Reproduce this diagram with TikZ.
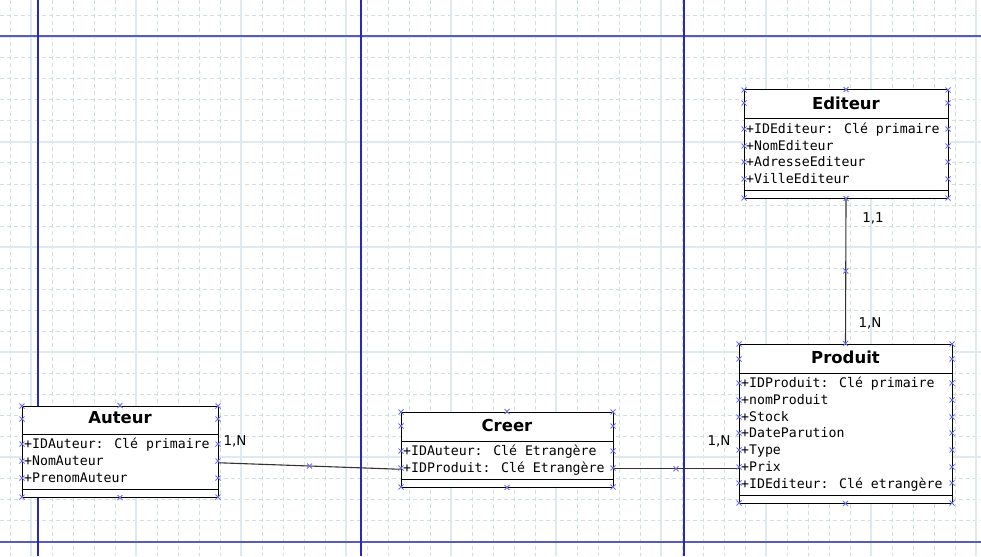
\documentclass[tikz,border=0pt]{standalone}
\usepackage{fontspec}
\setmainfont{DejaVu Sans}
\newfontfamily\attrfamily{DejaVu Sans Mono}

\definecolor{minorcol}{RGB}{206,224,224}
\definecolor{majorcol}{RGB}{222,234,238}
\definecolor{guidedark}{RGB}{40,40,190}
\definecolor{guidelight}{RGB}{90,90,185}
\definecolor{handlecol}{RGB}{110,110,235}

\tikzset{
  minorgrid/.style={draw=minorcol, line width=1pt, dash pattern=on 4pt off 3pt},
  majorgrid/.style={draw=majorcol, line width=1.2pt},
  guidev/.style={draw=guidedark, line width=1.2pt},
  guideh/.style={draw=guidelight, line width=2pt},
  classbox/.style={draw=black, fill=white, line width=1pt, inner sep=0pt},
  classline/.style={draw=black, line width=1pt},
  classtitle/.style={font=\fontsize{16.5}{19}\selectfont\bfseries, inner sep=0pt},
  attr/.style={font=\attrfamily\fontsize{13.2}{16}\selectfont, anchor=base west, inner sep=0pt},
  cardlabel/.style={font=\fontsize{13.5}{16}\selectfont, anchor=base, inner sep=0pt},
  link/.style={draw=black!80, line width=1.1pt},
  handle/.pic={\draw[handlecol, line width=0.9pt] (-2.5,-2.5) -- (2.5,2.5) (-2.5,2.5) -- (2.5,-2.5);}
}

\begin{document}
\begin{tikzpicture}[x=1pt, y=-1pt]
\useasboundingbox (0,0) rectangle (981,556);
\fill[white] (0,0) rectangle (981,556);

% Grid
\foreach \gx in {10,31,...,976} \draw[minorgrid] (\gx,0) -- (\gx,556);
\foreach \gy in {16,37,...,541} \draw[minorgrid] (0,\gy) -- (981,\gy);
\foreach \gx in {31,136,...,976} \draw[majorgrid] (\gx,0) -- (\gx,556);
\foreach \gy in {37,142,...,457} \draw[majorgrid] (0,\gy) -- (981,\gy);

% Page guides
\draw[guideh] (0,36.5) -- (981,36.5);
\draw[guideh] (0,541.5) -- (981,541.5);
\draw[guidev] (38,0) -- (38,556);
\draw[guidev] (361,0) -- (361,556);
\draw[guidev] (684,0) -- (684,556);

% Editeur
\node[classbox, minimum width=204pt, minimum height=108pt] (editeur) at (846,144) {};
\node[classtitle] (editeur-t) at (846,103) {Editeur};
\draw[classline] (editeur.west |- 0,119) -- (editeur.east |- 0,119);
\draw[classline] (editeur.west |- 0,190) -- (editeur.east |- 0,190);
\foreach \t [count=\i from 0] in {+IDEditeur: Clé primaire, +NomEditeur, +AdresseEditeur, +VilleEditeur}
  \node[attr] (editeur-a\i) at (746,{133.5+16.7*\i}) {\t};

% Produit
\node[classbox, minimum width=213pt, minimum height=159pt] (produit) at (845.5,423.5) {};
\node[classtitle] (produit-t) at (845.5,357) {Produit};
\draw[classline] (produit.west |- 0,373) -- (produit.east |- 0,373);
\draw[classline] (produit.west |- 0,495) -- (produit.east |- 0,495);
\foreach \t [count=\i from 0] in {+IDProduit: Clé primaire, +nomProduit, +Stock, +DateParution, +Type, +Prix, +IDEditeur: Clé etrangère}
  \node[attr] (produit-a\i) at (741,{387.5+16.8*\i}) {\t};

% Auteur
\node[classbox, minimum width=196pt, minimum height=91pt] (auteur) at (120,451.5) {};
\node[classtitle] (auteur-t) at (120,418) {Auteur};
\draw[classline] (auteur.west |- 0,434) -- (auteur.east |- 0,434);
\draw[classline] (auteur.west |- 0,489) -- (auteur.east |- 0,489);
\foreach \t [count=\i from 0] in {+IDAuteur: Clé primaire, +NomAuteur, +PrenomAuteur}
  \node[attr] (auteur-a\i) at (24,{448.5+17*\i}) {\t};

% Creer
\node[classbox, minimum width=212pt, minimum height=75pt] (creer) at (507,449.5) {};
\node[classtitle] (creer-t) at (507,425) {Creer};
\draw[classline] (creer.west |- 0,441) -- (creer.east |- 0,441);
\draw[classline] (creer.west |- 0,479) -- (creer.east |- 0,479);
\foreach \t [count=\i from 0] in {+IDAuteur: Clé Etrangère, +IDProduit: Clé Etrangère}
  \node[attr] (creer-a\i) at (403,{455+17*\i}) {\t};

% Associations
\draw[link] (editeur.south) -- (produit.north) coordinate[midway] (mid-ep);
\draw[link] (auteur.east |- auteur-a1.mid) -- (creer.west |- creer-a1.mid) coordinate[midway] (mid-ac);
\draw[link] (creer.east |- produit-a5.mid) -- (produit.west |- produit-a5.mid) coordinate[midway] (mid-cp);

% Connection points
\foreach \x in {744,948} \foreach \y in {90,103,129,146,162,179,198} \pic at (\x,\y) {handle};
\foreach \x in {739,952} \foreach \y in {344,359,383,400,417,433,450,467,483,503} \pic at (\x,\y) {handle};
\foreach \x in {22,218} \foreach \y in {406,419,444,461,478,497} \pic at (\x,\y) {handle};
\foreach \x in {401,613} \foreach \y in {412,426,451,468,487} \pic at (\x,\y) {handle};
\pic at (editeur.north) {handle}; \pic at (editeur.south) {handle};
\pic at (produit.north) {handle}; \pic at (produit.south) {handle};
\pic at (auteur.north) {handle}; \pic at (auteur.south) {handle};
\pic at (creer.north) {handle}; \pic at (creer.south) {handle};
\pic at (mid-ep) {handle}; \pic at (mid-ac) {handle}; \pic at (mid-cp) {handle};

% Cardinalities
\node[cardlabel] (card-ed) at (873,222) {1,1};
\node[cardlabel] (card-pe) at (870,327) {1,N};
\node[cardlabel] (card-au) at (235,445) {1,N};
\node[cardlabel] (card-pc) at (719,445) {1,N};
\end{tikzpicture}
\end{document}
